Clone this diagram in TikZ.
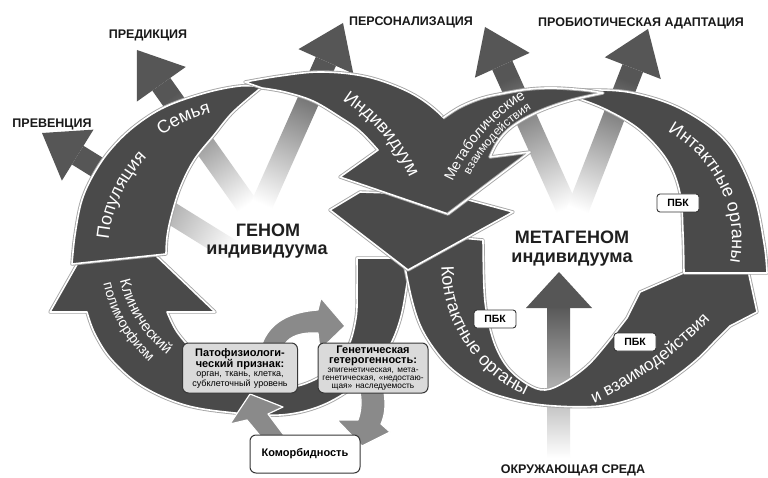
\documentclass[tikz,border=0pt]{standalone}
\usepackage{fontspec}
\setmainfont{Liberation Sans}
\usetikzlibrary{calc,decorations.text}
\definecolor{bandgray}{RGB}{74,74,74}
\definecolor{headgray}{RGB}{86,86,86}
\definecolor{smallgray}{RGB}{138,138,138}
\definecolor{boxgray}{RGB}{218,218,218}
\definecolor{edgegray}{RGB}{55,55,55}
\newcommand{\outarrow}[3]{%
  \coordinate (bb) at ($(#2)!42pt!(#1)$);
  \shade[top color=headgray, bottom color=white, shading angle=#3]
    ($(#1)!11pt!90:(bb)$) -- ($(#1)!11pt!-90:(bb)$) -- ($(bb)!11pt!90:(#1)$) -- ($(bb)!11pt!-90:(#1)$) -- cycle;
  \fill[headgray] (#2) -- ($(bb)!30pt!90:(#2)$) -- ($(bb)!30pt!-90:(#2)$) -- cycle;
}
\begin{document}
\begin{tikzpicture}[x=1pt,y=-1pt,
  band/.style={fill=bandgray, draw=white, line width=1.6pt, line join=round, preaction={draw=black!35, line width=3.4pt, line join=round}},
  bandedge/.style={draw=white, line width=1.6pt, line join=round, preaction={draw=black!35, line width=3.4pt, line join=round}},
  small/.style={fill=smallgray, draw=white, line width=1.2pt, line join=round},
  toplbl/.style={font=\bfseries\fontsize{12.5}{14}\selectfont, text=black!90, inner sep=0pt},
  bigc/.style={font=\bfseries\fontsize{18}{20}\selectfont, text=black!88, inner sep=0pt},
  pbk/.style={draw=edgegray, fill=white, rounded corners=3pt, line width=0.9pt, minimum width=42pt, minimum height=18pt, inner sep=0pt, font=\bfseries\fontsize{10.5}{12}\selectfont},
  infobox/.style={draw=edgegray, fill=boxgray, rounded corners=6pt, line width=1pt, inner sep=1pt, align=center, minimum height=50pt},
  bandtxt/.style 2 args={decorate, decoration={text along path, text align=center, text color=white, text={|\fontsize{#1}{#1}\selectfont|#2}}}
]
\useasboundingbox (0,0) rectangle (768,478);
\fill[white] (0,0) rectangle (768,478);

% outward arrows
\coordinate (cPrev) at (250,262);
\coordinate (cGen) at (256,218);
\coordinate (cMeta) at (573,222);
\coordinate (tPrev) at (42,133);
\coordinate (tPred) at (137,50);
\coordinate (tPersL) at (343,23);
\coordinate (tPersR) at (485,27);
\coordinate (tProb) at (648,29);
\outarrow{cPrev}{tPrev}{58}
\outarrow{cGen}{tPred}{35}
\outarrow{cGen}{tPersL}{-24}
\outarrow{cMeta}{tPersR}{24}
\outarrow{cMeta}{tProb}{-21}

% environment arrow
\shade[top color=headgray, bottom color=white] (547,305) rectangle (570,458);
\fill[headgray] (559,272) -- (592,308) -- (526,308) -- cycle;

% B: clinical polymorphism arrow
\path[band] (357,258) -- plot[smooth, tension=0.6] coordinates {(410,258) (406,290) (400,320) (389,347) (370,372) (345,393) (315,408) (280,415) (235,413) (185,405) (142,386) (112,360) (95,334) (87,312)} -- (50,312) -- (108,210) -- (215,312) -- plot[smooth, tension=0.6] coordinates {(167,312) (177,332) (195,352) (222,371) (256,385) (293,387) (326,373) (347,349) (356,318) (357,288) (357,258)} -- cycle;

% A: population / family
\path[band] plot[smooth, tension=0.6] coordinates {(72,264) (75,235) (82,200) (95,172) (112,148) (135,126) (165,107) (205,93) (240,86) (262,87)} -- plot[smooth, tension=0.6] coordinates {(262,87) (233,112) (214,135) (194,160) (180,188) (171,217) (167,237) (166,254)} -- cycle;

% E: contact organs and interactions
\path[band] (440,236) -- (404,262) -- plot[smooth, tension=0.6] coordinates {(404,262) (412,300) (421,327) (435,350) (452,369) (475,385) (500,396) (543,405) (600,406) (640,396) (667,382) (695,361) (717,339) (730,326)} -- (757,312) -- (743,247) -- (640,292) -- plot[smooth, tension=0.6] coordinates {(627,318) (605,346) (587,366) (565,382) (545,390) (527,384) (508,368) (495,345) (487,315) (484,288) (483,240)} -- cycle;

% D: intact organs
\path[band] plot[smooth, tension=0.6] coordinates {(560,93) (587,90) (633,93) (683,110) (727,143) (753,193) (764,243) (767,273)} -- (684,273) -- plot[smooth, tension=0.6] coordinates {(684,273) (683,233) (680,193) (667,160) (640,130) (607,110) (577,98) (560,93)} -- cycle;

% G: lower central head
\path[band] (330,210) -- (408,270) -- (513,212) -- (450,195) -- (360,192) -- cycle;

% C: individual
\path[band] plot[smooth, tension=0.6] coordinates {(245,82) (280,76) (320,72) (363,76) (400,88) (428,104) (452,127) (468,152) (478,178)} -- (448,214) -- (340,177) -- plot[smooth, tension=0.6] coordinates {(378,150) (360,131) (340,117) (313,101) (285,92) (262,88)} -- cycle;

% F: metabolic interactions (merges with C on its left side)
\fill[bandgray] plot[smooth, tension=0.6] coordinates {(603,93) (584,90) (555,88) (530,89) (505,93) (482,98) (460,107) (443,118) (434,135) (434,160) (440,190)} -- (448,214) -- (530,152) -- plot[smooth, tension=0.6] coordinates {(490,157) (497,143) (508,130) (524,119) (545,109) (572,100) (603,93)} -- cycle;
\path[bandedge] plot[smooth, tension=0.6] coordinates {(443,118) (460,107) (482,98) (505,93) (530,89) (555,88) (584,90) (603,93)} -- plot[smooth, tension=0.6] coordinates {(603,93) (572,100) (545,109) (524,119) (508,130) (497,143) (490,157)} -- (530,152) -- (448,214);

% small cycle arrows
\path[small] (262,344) .. controls (270,322) and (290,312) .. (318,310) -- (321,298) -- (345,326) -- (320,350) -- (318,333) .. controls (302,332) and (290,336) .. (285,344) -- cycle;
\path[small] (360,392) -- (384,392) .. controls (386,405) and (385,415) .. (381,424) -- (390,432) -- (362,446) -- (337,420) -- (358,420) .. controls (361,412) and (362,402) .. (360,392) -- cycle;
\path[small] (262,438) -- (247,420) -- (230,424) -- (250,394) -- (283,407) -- (268,414) -- (286,438) -- cycle;

% boxes
\node[infobox, text width=112pt, minimum width=115pt] (pato) at (240,368) {{\bfseries\fontsize{11}{11}\selectfont Патофизиологи-\\ческий признак:\par}{\fontsize{9}{9.5}\selectfont орган, ткань, клетка,\\субклеточный уровень\par}};
\node[infobox, text width=108pt, minimum width=110pt] (genh) at (373,368) {{\bfseries\fontsize{11}{10.5}\selectfont Генетическая\\гетерогенность:\par}{\fontsize{8.3}{8.3}\selectfont эпигенетическая, мета-\\генетическая, «недостаю-\\щая» наследуемость\par}};
\node[infobox, fill=white, minimum width=110pt, minimum height=38pt, font=\bfseries\fontsize{11}{13}\selectfont] (comorb) at (305,454) {Коморбидность};
\node[pbk] (pbk1) at (678,203) {ПБК};
\node[pbk] (pbk2) at (495,319) {ПБК};
\node[pbk] (pbk3) at (635,342) {ПБК};

% band texts (polyline paths)
\path[bandtxt={18}{Популяция}] plot[domain=170:240, samples=50] ({245+137*cos(\x)}, {253+137*sin(\x)});
\path[bandtxt={18}{Семья}] plot[domain=225:266, samples=40] ({245+144*cos(\x)}, {253+144*sin(\x)});
\path[bandtxt={18}{Индивидуум}] plot[domain=-66:-16, samples=50] ({245+181*cos(\x)}, {253+181*sin(\x)});
\path[bandtxt={14.5}{Метаболические}] plot[domain=196:246, samples=50] ({624+187*cos(\x)}, {257+187*sin(\x)});
\path[bandtxt={12}{взаимодействия}] plot[domain=198:248, samples=50] ({624+174.5*cos(\x)}, {257+174.5*sin(\x)});
\path[bandtxt={18}{Интактные органы}] plot[domain=-70:19, samples=60] ({609+123*cos(\x)}, {240+123*sin(\x)});
\path[bandtxt={18}{Контактные органы}] plot[domain=192:102, samples=60] ({583+141.5*cos(\x)}, {266+141.5*sin(\x)});
\path[bandtxt={17}{и взаимодействия}] plot[domain=68:40.6, samples=40] ({425+396*cos(\x)}, {45+396*sin(\x)});
\path[bandtxt={15}{Клинический}] plot[domain=187:108, samples=50] ({245+128*cos(\x)}, {253+128*sin(\x)});
\path[bandtxt={14}{полиморфизм}] plot[domain=189:110, samples=50] ({245+145*cos(\x)}, {253+145*sin(\x)});

% labels
\node[toplbl] (lPrev) at (52,124) {ПРЕВЕНЦИЯ};
\node[toplbl] (lPred) at (148,35) {ПРЕДИКЦИЯ};
\node[toplbl] (lPers) at (411,22) {ПЕРСОНАЛИЗАЦИЯ};
\node[toplbl] (lProb) at (641,23) {ПРОБИОТИЧЕСКАЯ АДАПТАЦИЯ};
\node[toplbl] (lEnv) at (573,470) {ОКРУЖАЮЩАЯ СРЕДА};
\node[bigc] (gen1) at (268,230) {ГЕНОМ};
\node[bigc] (gen2) at (267,252) {индивидуума};
\node[bigc] (meta1) at (572,237) {МЕТАГЕНОМ};
\node[bigc] (meta2) at (572,260) {индивидуума};
\end{tikzpicture}
\end{document}
